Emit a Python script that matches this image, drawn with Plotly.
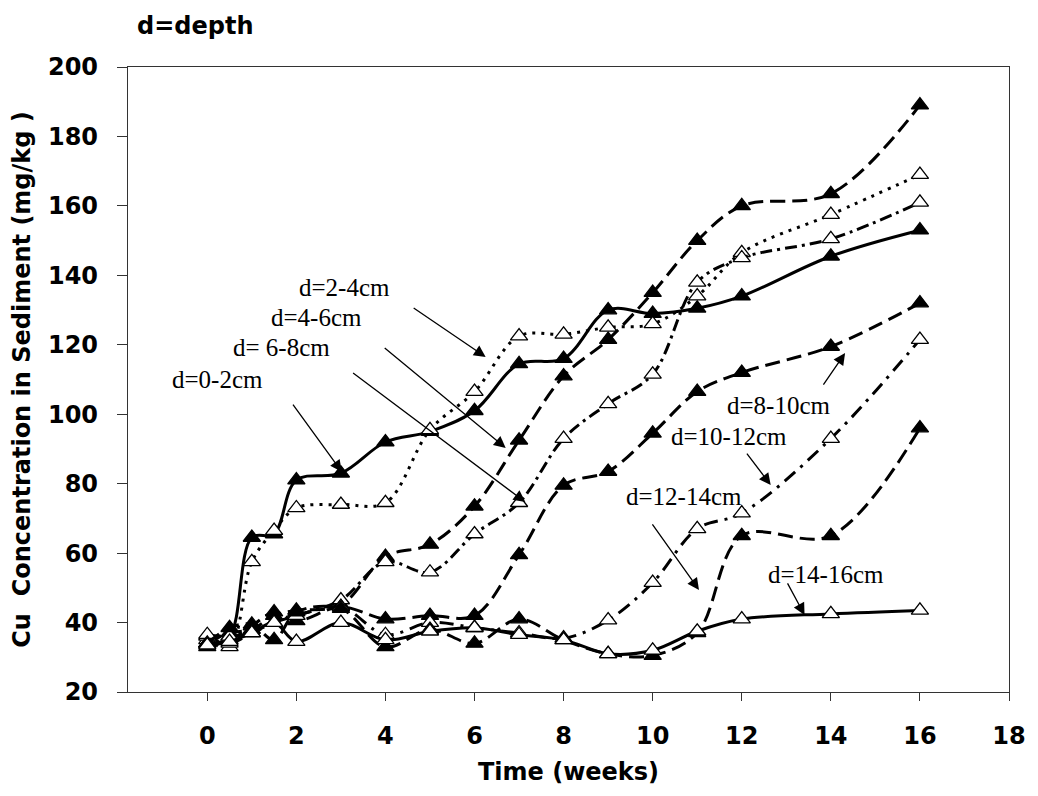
import plotly.graph_objects as go

weeks = [0, 0.5, 1, 1.5, 2, 3, 4, 5, 6, 7, 8, 9, 10, 11, 12, 14, 16]

d_0_2 = [33, 36, 64.5, 65.5, 81, 83, 92, 95, 101, 114.5, 116, 130, 129, 130.5, 134, 145.5, 153]
d_2_4 = [35, 33, 57.5, 66.5, 73, 74, 74.5, 95.5, 106.5, 122.5, 123, 125, 126, 134, 146.5, 157.5, 169]
d_4_6 = [34, 37, 38, 42, 43.5, 45, 59, 62.5, 73.5, 92.5, 111, 121.5, 135, 150, 160, 163.5, 189]
d_6_8 = [36, 34, 37, 40, 42, 46.5, 57.5, 54.5, 65.5, 74.5, 93, 103, 111.5, 138, 145, 150.5, 161]
d_8_10 = [34, 35, 39, 43, 40.5, 44.5, 41, 42, 42, 59.5, 79.5, 83.5, 94.5, 106.5, 112, 119.5, 132]
d_10_12 = [36.5, 36, 37, 40, 42, 44.5, 36.5, 40, 38.5, 37, 35.5, 40.7, 51.5, 67, 71.5, 93, 121.5]
d_12_14 = [34, 38.5, 39.5, 35, 43, 44, 33, 38, 34, 41, 35, 31, 30.5, 37, 65, 65, 96]
d_14_16 = [33.5, 34.5, 37, 40, 34.5, 40, 35, 37.5, 38.5, 36.5, 35, 31, 32, 37.5, 41, 42.5, 43.5]

series = [
    ("d=0-2cm", d_0_2, "solid", True),
    ("d=2-4cm", d_2_4, "3px,6px", False),
    ("d=4-6cm", d_4_6, "15px,7px", True),
    ("d=6-8cm", d_6_8, "12px,5px,3px,5px", False),
    ("d=8-10cm", d_8_10, "15px,7px", True),
    ("d=10-12cm", d_10_12, "14px,7px,3px,7px", False),
    ("d=12-14cm", d_12_14, "15px,7px", True),
    ("d=14-16cm", d_14_16, "solid", False),
]

# label text (text, x, y) and arrows (x_start, y_start, x_tip, y_tip)
labels = [
    ("d=2-4cm", 3.07, 136.6),
    ("d=4-6cm", 2.46, 128.0),
    ("d= 6-8cm", 1.66, 119.1),
    ("d=0-2cm", 0.23, 109.9),
    ("d=8-10cm", 12.83, 102.4),
    ("d=10-12cm", 11.71, 93.7),
    ("d=12-14cm", 10.71, 76.2),
    ("d=14-16cm", 13.90, 53.8),
]
arrows = [
    (4.60, 130.9, 6.25, 116.5),
    (3.95, 119.4, 6.70, 90.3),
    (3.24, 112.2, 7.14, 74.7),
    (1.90, 103.2, 3.02, 83.4),
    (13.81, 108.1, 14.32, 117.6),
    (12.09, 89.1, 12.65, 79.6),
    (9.97, 68.7, 11.04, 49.4),
    (13.01, 51.7, 13.41, 42.2),
]

fig = go.Figure()
for name, vals, dash, filled in series:
    fig.add_trace(go.Scatter(
        x=weeks, y=vals, name=name, mode="lines+markers",
        line=dict(color="black", width=3, dash=dash, shape="spline", smoothing=1.0),
        marker=dict(symbol="triangle-up", size=15,
                    color="black" if filled else "white",
                    line=dict(color="black", width=1.3)),
        showlegend=False,
    ))

annotations = []
for text, x, y in labels:
    annotations.append(dict(
        x=x, y=y, xref="x", yref="y", text=text, showarrow=False,
        font=dict(family="Liberation Serif", size=25, color="black"),
        xanchor="center", yanchor="middle",
    ))
for xs, ys, xt, yt in arrows:
    annotations.append(dict(
        x=xt, y=yt, ax=xs, ay=ys, xref="x", yref="y", axref="x", ayref="y",
        text="", showarrow=True, arrowhead=2, arrowsize=1.8, arrowwidth=1.3,
        arrowcolor="black",
    ))
annotations.append(dict(
    x=(135 - 128) / 887, y=(692 - 26) / 625, xref="paper", yref="paper",
    text="<b>d=depth</b>", showarrow=False, xanchor="left", yanchor="middle",
    font=dict(family="DejaVu Sans", size=24, color="black"),
))

bold = dict(family="DejaVu Sans", size=24, color="black")
fig.update_layout(
    width=1038, height=796,
    margin=dict(l=128, r=23, t=67, b=104),
    paper_bgcolor="white", plot_bgcolor="white",
    annotations=annotations,
    xaxis=dict(
        range=[-1.78, 18], tickmode="array", tickvals=list(range(0, 19, 2)),
        ticktext=["<b>%d</b>" % v for v in range(0, 19, 2)],
        ticks="outside", ticklen=8, tickcolor="#333", tickwidth=1,
        ticklabelstandoff=14,
        showline=True, linecolor="#333", linewidth=1.3, mirror=True,
        showgrid=False, zeroline=False, tickfont=bold,
        title=dict(text="<b>Time (weeks)</b>", font=bold, standoff=14),
    ),
    yaxis=dict(
        range=[20, 200], tickmode="array", tickvals=list(range(20, 201, 20)),
        ticktext=["<b>%d</b>" % v for v in range(20, 201, 20)],
        ticks="outside", ticklen=10, tickcolor="#333", tickwidth=1,
        ticklabelstandoff=14,
        showline=True, linecolor="#333", linewidth=1.3, mirror=True,
        showgrid=False, zeroline=False, tickfont=bold,
        title=dict(text="<b>Cu\u00a0\u00a0Concentration in Sediment (mg/kg )</b>", font=bold, standoff=10),
    ),
)

fig.write_html("out.html")
